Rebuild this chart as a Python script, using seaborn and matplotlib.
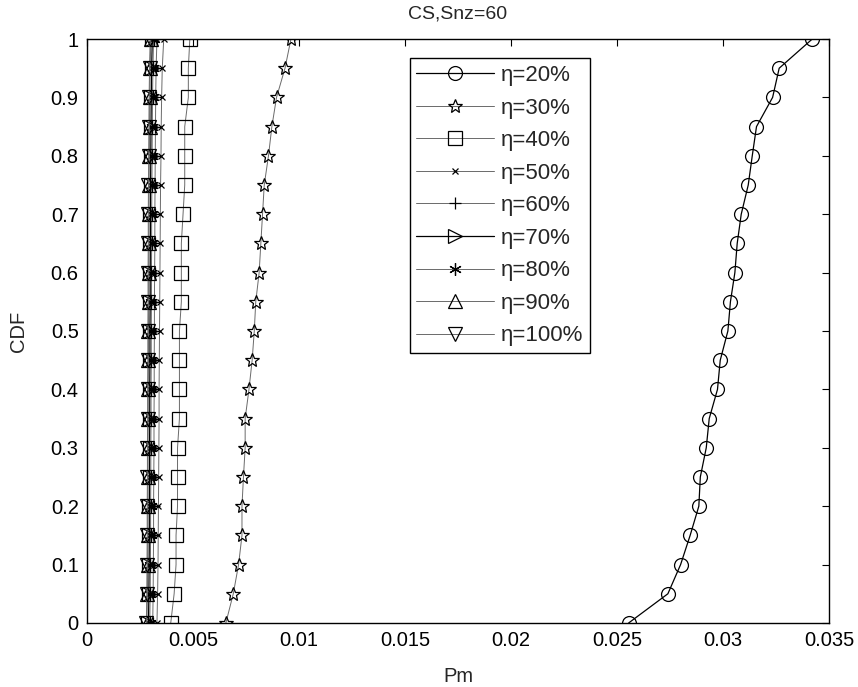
import matplotlib
matplotlib.use("Agg")
import matplotlib.pyplot as plt
import seaborn as sns
import pandas as pd

sns.set_theme(style="white")
plt.rcParams['font.family'] = ['Liberation Sans', 'DejaVu Sans']

cdf = [0.0, 0.05, 0.1, 0.15, 0.2, 0.25, 0.3, 0.35, 0.4, 0.45, 0.5,
       0.55, 0.6, 0.65, 0.7, 0.75, 0.8, 0.85, 0.9, 0.95, 1.0]

pm_20 = [0.02555, 0.0274, 0.0280, 0.02845, 0.02886, 0.02893, 0.02921, 0.02935, 0.02974, 0.02987, 0.03023,
         0.03035, 0.03056, 0.03067, 0.03086, 0.03119, 0.03138, 0.03158, 0.03234, 0.03265, 0.03421]
pm_30 = [0.00655, 0.0069, 0.00715, 0.00731, 0.00731, 0.00738, 0.00746, 0.00746, 0.00764, 0.00779, 0.00789,
         0.00796, 0.00812, 0.0082, 0.00828, 0.00836, 0.00856, 0.00872, 0.00894, 0.00934, 0.00962]
pm_40 = [0.00395, 0.00411, 0.0042, 0.0042, 0.00427, 0.00427, 0.00427, 0.00436, 0.00436, 0.00436, 0.00436,
         0.00445, 0.00445, 0.00445, 0.00453, 0.00461, 0.00461, 0.00461, 0.00478, 0.00478, 0.00485]
pm_50 = [0.00330, 0.00333, 0.00335, 0.00336, 0.00337, 0.00338, 0.00339, 0.00340, 0.00340, 0.00341, 0.00342,
         0.00343, 0.00344, 0.00345, 0.00346, 0.00347, 0.00349, 0.00350, 0.00352, 0.00355, 0.00362]
pm_60 = [0.00310, 0.00312, 0.00313, 0.00314, 0.00314, 0.00315, 0.00316, 0.00316, 0.00317, 0.00317, 0.00318,
         0.00318, 0.00319, 0.00320, 0.00320, 0.00321, 0.00322, 0.00323, 0.00324, 0.00326, 0.00330]
pm_70 = [0.00290, 0.00292, 0.00293, 0.00294, 0.00294, 0.00295, 0.00295, 0.00296, 0.00296, 0.00297, 0.00297,
         0.00298, 0.00298, 0.00299, 0.00299, 0.00300, 0.00301, 0.00302, 0.00303, 0.00305, 0.00308]
pm_80 = [0.00296, 0.00298, 0.00299, 0.00300, 0.00300, 0.00301, 0.00301, 0.00302, 0.00302, 0.00303, 0.00303,
         0.00304, 0.00304, 0.00305, 0.00305, 0.00306, 0.00307, 0.00308, 0.00309, 0.00311, 0.00314]
pm_90 = [0.00283, 0.00285, 0.00286, 0.00287, 0.00287, 0.00288, 0.00288, 0.00289, 0.00289, 0.00290, 0.00290,
         0.00291, 0.00291, 0.00292, 0.00292, 0.00293, 0.00294, 0.00295, 0.00296, 0.00298, 0.00301]
pm_100 = [0.00280, 0.00282, 0.00283, 0.00284, 0.00284, 0.00285, 0.00285, 0.00286, 0.00286, 0.00287, 0.00287,
          0.00288, 0.00288, 0.00289, 0.00289, 0.00290, 0.00291, 0.00292, 0.00293, 0.00295, 0.00298]

labels = ['η=20%', 'η=30%', 'η=40%', 'η=50%', 'η=60%', 'η=70%', 'η=80%', 'η=90%', 'η=100%']
series = [pm_20, pm_30, pm_40, pm_50, pm_60, pm_70, pm_80, pm_90, pm_100]

x_ticks = [0, 0.005, 0.01, 0.015, 0.02, 0.025, 0.03, 0.035]
x_tick_labels = ['0', '0.005', '0.01', '0.015', '0.02', '0.025', '0.03', '0.035']
y_ticks = [0, 0.1, 0.2, 0.3, 0.4, 0.5, 0.6, 0.7, 0.8, 0.9, 1.0]
y_tick_labels = ['0', '0.1', '0.2', '0.3', '0.4', '0.5', '0.6', '0.7', '0.8', '0.9', '1']

styles = [
    dict(marker='o', ms=10, color='black', lw=0.9),
    dict(marker='*', ms=10, color='#6a6a6a', lw=0.7),
    dict(marker='s', ms=9.5, color='#6a6a6a', lw=0.7),
    dict(marker='x', ms=5, color='#6a6a6a', lw=0.7),
    dict(marker='+', ms=9, color='#6a6a6a', lw=0.7),
    dict(marker='>', ms=10, color='black', lw=0.9),
    dict(marker=(6, 2, 0), ms=9, color='#6a6a6a', lw=0.7),
    dict(marker='^', ms=10, color='#6a6a6a', lw=0.7),
    dict(marker='v', ms=10, color='#6a6a6a', lw=0.7),
]

fig = plt.figure(figsize=(8.58, 6.87), dpi=100)
ax = fig.add_axes([0.1014, 0.0932, 0.8648, 0.85])

for lab, xs, st in zip(labels, series, styles):
    df = pd.DataFrame({'Pm': xs, 'CDF': cdf})
    sns.lineplot(data=df, x='Pm', y='CDF', sort=False, estimator=None, ax=ax,
                 label=lab, color=st['color'], linewidth=st['lw'],
                 marker=st['marker'], markersize=st['ms'],
                 markerfacecolor='none', markeredgecolor='black',
                 markeredgewidth=0.9)

ax.set_xlim(0, 0.035)
ax.set_ylim(0, 1)
ax.set_xticks(x_ticks)
ax.set_xticklabels(x_tick_labels)
ax.set_yticks(y_ticks)
ax.set_yticklabels(y_tick_labels)
ax.tick_params(direction='in', length=5, width=0.8, top=True, right=True,
               labelsize=14.5, colors='black', pad=6)
for sp in ax.spines.values():
    sp.set_color('black')
    sp.set_linewidth(1.0)

ax.set_xlabel('Pm', fontsize=14.5, labelpad=12)
ax.set_ylabel('CDF', fontsize=14.5, labelpad=16)
ax.set_title('CS,Snz=60', fontsize=14, pad=15)

leg = ax.legend(loc='upper left', bbox_to_anchor=(0.435, 0.967), borderaxespad=0,
                fontsize=16, handlelength=3.5, handletextpad=0.3, labelspacing=0.52,
                fancybox=False, frameon=True, edgecolor='black', framealpha=1,
                borderpad=0.3)
leg.get_frame().set_linewidth(1.0)

fig.savefig('out.png', dpi=100, facecolor='white')
